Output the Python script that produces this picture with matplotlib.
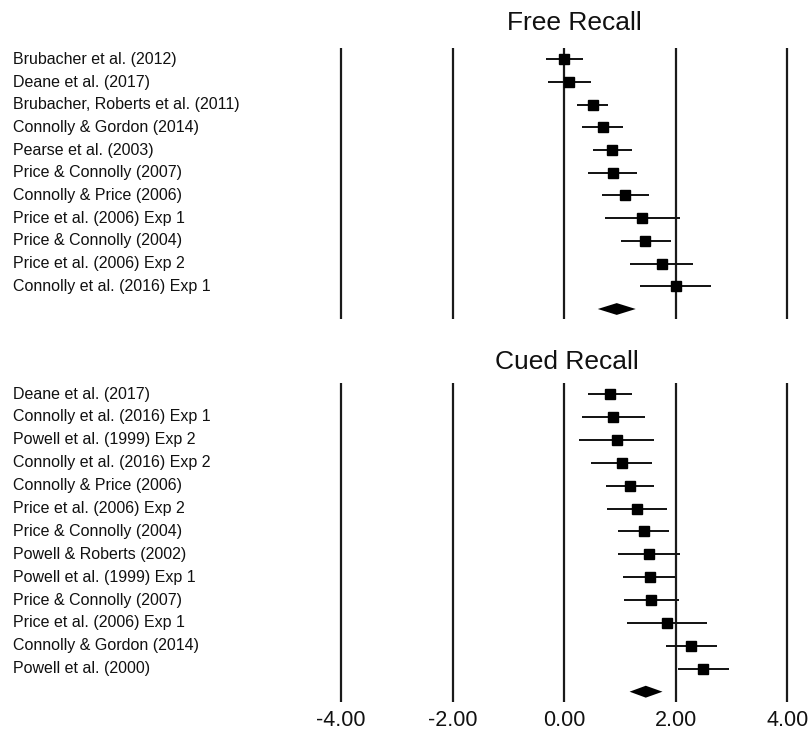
import matplotlib
matplotlib.use("Agg")
import matplotlib.pyplot as plt
import matplotlib.transforms as mtransforms

plt.rcParams['font.family'] = ['Liberation Sans', 'DejaVu Sans']

# ---- data ----
free_studies = ["Brubacher et al. (2012)", "Deane et al. (2017)",
                "Brubacher, Roberts et al. (2011)", "Connolly & Gordon (2014)",
                "Pearse et al. (2003)", "Price & Connolly (2007)",
                "Connolly & Price (2006)", "Price et al. (2006) Exp 1",
                "Price & Connolly (2004)", "Price et al. (2006) Exp 2",
                "Connolly et al. (2016) Exp 1"]
free_est = [0.00, 0.08, 0.51, 0.69, 0.85, 0.87, 1.09, 1.40, 1.45, 1.75, 2.00]
free_lo = [-0.32, -0.29, 0.23, 0.32, 0.51, 0.43, 0.68, 0.73, 1.01, 1.18, 1.36]
free_hi = [0.34, 0.47, 0.78, 1.06, 1.21, 1.31, 1.51, 2.07, 1.91, 2.31, 2.63]
free_pooled = [0.60, 0.94, 1.28]  # lo, est, hi

cued_studies = ["Deane et al. (2017)", "Connolly et al. (2016) Exp 1",
                "Powell et al. (1999) Exp 2", "Connolly et al. (2016) Exp 2",
                "Connolly & Price (2006)", "Price et al. (2006) Exp 2",
                "Price & Connolly (2004)", "Powell & Roberts (2002)",
                "Powell et al. (1999) Exp 1", "Price & Connolly (2007)",
                "Price et al. (2006) Exp 1", "Connolly & Gordon (2014)",
                "Powell et al. (2000)"]
cued_est = [0.82, 0.88, 0.94, 1.03, 1.18, 1.30, 1.42, 1.51, 1.53, 1.55, 1.84, 2.27, 2.48]
cued_lo = [0.43, 0.32, 0.27, 0.48, 0.75, 0.76, 0.97, 0.96, 1.06, 1.07, 1.13, 1.82, 2.03]
cued_hi = [1.22, 1.44, 1.61, 1.58, 1.61, 1.84, 1.88, 2.07, 1.99, 2.05, 2.55, 2.74, 2.95]
cued_pooled = [1.17, 1.46, 1.76]

ref_lines = [-4, -2, 0, 2, 4]
tick_labels = ["-4.00", "-2.00", "0.00", "2.00", "4.00"]

W, H = 811, 736
fig = plt.figure(figsize=(W / 100, H / 100), dpi=100)

# x mapping: 0 at px 564.3, 55.8 px/unit
x0px, ppu = 564.3, 55.8
xmin, xmax = -4.3, 4.3
left_px = x0px + xmin * ppu
right_px = x0px + xmax * ppu


def make_ax(top_px, bot_px):
    return fig.add_axes([left_px / W, 1 - bot_px / H,
                         (right_px - left_px) / W, (bot_px - top_px) / H])


def panel(ax, names, est, lo, hi, pooled, y0px, step, top_px, bot_px,
          title, title_x, title_y):
    n = len(names)
    ax.set_xlim(xmin, xmax)
    ax.set_ylim((bot_px - y0px) / step, (top_px - y0px) / step)
    ax.axis('off')
    for v in ref_lines:
        ax.axvline(v, color='#1a1a1a', lw=1.6, zorder=1)
    ys = list(range(n))
    ax.hlines(ys, lo, hi, color='#111111', lw=1.4, zorder=2)
    ax.plot(est, ys, ls='none', marker='s', ms=6.8, color='black', zorder=3)
    yd = n
    h = 0.26
    ax.fill([pooled[0], pooled[1], pooled[2], pooled[1]],
            [yd, yd - h, yd, yd + h], color='black', lw=0, zorder=3)
    tr = mtransforms.blended_transform_factory(fig.transFigure, ax.transData)
    for i, name in enumerate(names):
        ax.text(13 / W, i, name, transform=tr, ha='left', va='center',
                fontsize=11.5, color='#111111')
    fig.text(title_x / W, 1 - title_y / H, title, ha='center', va='center',
             fontsize=19, color='#111111')


ax1 = make_ax(48, 319)
panel(ax1, free_studies, free_est, free_lo, free_hi, free_pooled,
      59.3, 22.7, 48, 319, "Free Recall", 574, 23)

ax2 = make_ax(383, 702)
panel(ax2, cued_studies, cued_est, cued_lo, cued_hi, cued_pooled,
      394, 22.9, 383, 702, "Cued Recall", 567, 362)

trx = mtransforms.blended_transform_factory(ax2.transData, fig.transFigure)
for v, lab in zip(ref_lines, tick_labels):
    ax2.text(v, 1 - 721 / H, lab, transform=trx, ha='center', va='center',
             fontsize=15.5, color='#111111')

fig.savefig("out.png", dpi=100)
